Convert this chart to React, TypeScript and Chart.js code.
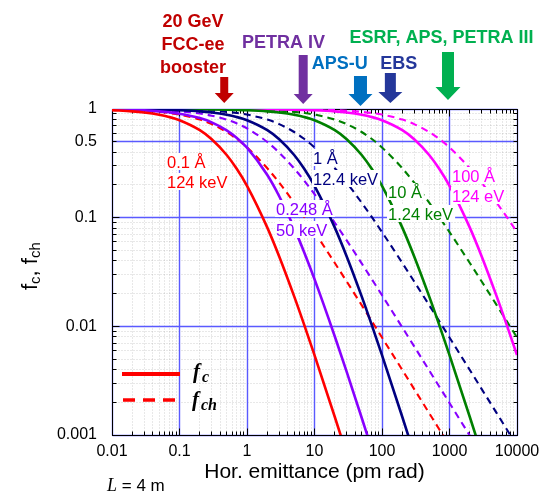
import React, { useEffect, useRef } from 'react';
import { Chart, registerables } from 'chart.js';

Chart.register(...registerables);

// ---------- data ----------
const emittance = [
  0.01, 0.02, 0.03, 0.05, 0.07,
  0.1, 0.2, 0.3, 0.5, 0.7,
  1, 2, 3, 5, 7,
  10, 20, 30, 50, 70,
  100, 200, 300, 500, 700,
  1000, 2000, 3000, 5000, 7000,
  10000,
];

const wavelengthLabels = ['0.1 Å', '0.248 Å', '1 Å', '10 Å', '100 Å'];
const energyLabels = ['124 keV', '50 keV', '12.4 keV', '1.24 keV', '124 eV'];

// f_c (solid) and f_ch (dashed), values at the emittance grid above
const fcRed = [0.9753, 0.9516, 0.9287, 0.8853, 0.8448, 0.7892, 0.6387, 0.5274, 0.3772, 0.2831, 0.1964, 0.08102, 0.04395, 0.01885, 0.01042, 0.005434, 0.001464, 0.000668];
const fchRed = [0.9876, 0.9755, 0.9637, 0.9409, 0.9192, 0.8884, 0.7992, 0.7262, 0.6141, 0.532, 0.4431, 0.2846, 0.2097, 0.1373, 0.1021, 0.07371, 0.03827, 0.02584, 0.01567, 0.01124, 0.007895, 0.003963, 0.002646, 0.001589, 0.001136, 0.000795];

const fcPurple = [0.99, 0.98, 0.9703, 0.9512, 0.9327, 0.9059, 0.8244, 0.7535, 0.6366, 0.5449, 0.4405, 0.2467, 0.1575, 0.08009, 0.04837, 0.02717, 0.008066, 0.00381, 0.001442, 0.000752];
const fchPurple = [0.995, 0.99, 0.985, 0.9753, 0.9657, 0.9518, 0.908, 0.8681, 0.7979, 0.7382, 0.6637, 0.4967, 0.3968, 0.283, 0.2199, 0.1648, 0.08981, 0.06172, 0.03797, 0.02742, 0.01935, 0.009771, 0.006535, 0.003932, 0.002811, 0.00197, 0.000986, 0.000657];

const fcNavy = [0.9975, 0.995, 0.9925, 0.9876, 0.9826, 0.9753, 0.9516, 0.9287, 0.8853, 0.8448, 0.7892, 0.6387, 0.5274, 0.3772, 0.2831, 0.1964, 0.08102, 0.04395, 0.01885, 0.01042, 0.005434, 0.001464, 0.000668];
const fchNavy = [0.9987, 0.9975, 0.9962, 0.9938, 0.9913, 0.9876, 0.9755, 0.9637, 0.9409, 0.9192, 0.8884, 0.7992, 0.7262, 0.6141, 0.532, 0.4431, 0.2846, 0.2097, 0.1373, 0.1021, 0.07371, 0.03827, 0.02584, 0.01567, 0.01124, 0.007895, 0.003963, 0.002646, 0.001589, 0.001136, 0.000795];

const fcGreen = [0.9997, 0.9995, 0.9992, 0.9987, 0.9982, 0.9975, 0.995, 0.9925, 0.9876, 0.9826, 0.9753, 0.9516, 0.9287, 0.8853, 0.8448, 0.7892, 0.6387, 0.5274, 0.3772, 0.2831, 0.1964, 0.08102, 0.04395, 0.01885, 0.01042, 0.005434, 0.001464, 0.000668];
const fchGreen = [0.9999, 0.9997, 0.9996, 0.9994, 0.9991, 0.9987, 0.9975, 0.9962, 0.9938, 0.9913, 0.9876, 0.9755, 0.9637, 0.9409, 0.9192, 0.8884, 0.7992, 0.7262, 0.6141, 0.532, 0.4431, 0.2846, 0.2097, 0.1373, 0.1021, 0.07371, 0.03827, 0.02584, 0.01567, 0.01124, 0.007895];

const fcMagenta = [1, 1, 1, 0.9999, 0.9998, 0.9997, 0.9995, 0.9992, 0.9987, 0.9982, 0.9975, 0.995, 0.9925, 0.9876, 0.9826, 0.9753, 0.9516, 0.9287, 0.8853, 0.8448, 0.7892, 0.6387, 0.5274, 0.3772, 0.2831, 0.1964, 0.08102, 0.04395, 0.01885, 0.01042, 0.005434];
const fchMagenta = [1, 1, 1, 0.9999, 0.9999, 0.9999, 0.9997, 0.9996, 0.9994, 0.9991, 0.9987, 0.9975, 0.9962, 0.9938, 0.9913, 0.9876, 0.9755, 0.9637, 0.9409, 0.9192, 0.8884, 0.7992, 0.7262, 0.6141, 0.532, 0.4431, 0.2846, 0.2097, 0.1373, 0.1021, 0.07371];

const xTickValues = [0.01, 0.1, 1, 10, 100, 1000, 10000];
const xTickLabels = ['0.01', '0.1', '1', '10', '100', '1000', '10000'];
const yTickValues = [0.001, 0.01, 0.1, 0.5, 1];
const yTickLabels = ['0.001', '0.01', '0.1', '0.5', '1'];
const yDecades = [0.001, 0.01, 0.1, 1];

const markerLines = [['20 GeV', 'FCC-ee', 'booster'], ['PETRA IV'], ['APS-U'], ['EBS'], ['ESRF, APS, PETRA III']];
const markerEmittance = [0.46, 6.8, 48, 133, 950];

// ---------- styles ----------
const RED = '#ff0000';
const PURPLE = '#8800ff';
const NAVY = '#000080';
const GREEN = '#008000';
const MAGENTA = '#ff00ff';
const curveColors = [RED, PURPLE, NAVY, GREEN, MAGENTA];
const fcSeries = [fcRed, fcPurple, fcNavy, fcGreen, fcMagenta];
const fchSeries = [fchRed, fchPurple, fchNavy, fchGreen, fchMagenta];

const markerColors = ['#c00000', '#7030a0', '#0070c0', '#24379a', '#00b050'];
const SANS = '"Liberation Sans", Arial, sans-serif';
const SERIF = '"Liberation Serif", "Times New Roman", serif';
const MAJOR_GRID = '#5a5aff';
const MINOR_GRID = 'rgba(0,0,0,0.18)';

const near = (v: number, list: number[]) =>
  list.findIndex((t) => Math.abs(Math.log10(v) - Math.log10(t)) < 1e-6);

const toPoints = (arr: number[]) => arr.map((v, i) => ({ x: emittance[i], y: v }));

const minorsBetween = (decades: number[]) => {
  const out: number[] = [];
  for (let i = 0; i < decades.length - 1; i++) {
    for (let m = 2; m <= 9; m++) out.push(decades[i] * m);
  }
  return out;
};

const decor = {
  id: 'decor',
  beforeDatasetsDraw(chart: any) {
    const { ctx, chartArea: a, scales } = chart;
    const xs = scales.x;
    const ys = scales.y;
    const al = (p: number) => Math.round(p - 0.5) + 0.5;
    const L = al(a.left), R = al(a.right), T = al(a.top), B = al(a.bottom);
    const xMinor = minorsBetween(xTickValues);
    const yMinor = minorsBetween(yDecades).filter((v) => near(v, yTickValues) < 0);
    ctx.save();
    // minor grid
    ctx.strokeStyle = MINOR_GRID;
    ctx.lineWidth = 1;
    ctx.setLineDash([1, 2]);
    ctx.beginPath();
    xMinor.forEach((v) => {
      const px = al(xs.getPixelForValue(v));
      ctx.moveTo(px, T);
      ctx.lineTo(px, B);
    });
    yMinor.forEach((v) => {
      const py = al(ys.getPixelForValue(v));
      ctx.moveTo(L, py);
      ctx.lineTo(R, py);
    });
    ctx.stroke();
    // major grid
    ctx.setLineDash([]);
    ctx.strokeStyle = MAJOR_GRID;
    ctx.lineWidth = 1.4;
    ctx.beginPath();
    xTickValues.forEach((v) => {
      const px = al(xs.getPixelForValue(v));
      ctx.moveTo(px, T);
      ctx.lineTo(px, B);
    });
    yTickValues.forEach((v) => {
      const py = al(ys.getPixelForValue(v));
      ctx.moveTo(L, py);
      ctx.lineTo(R, py);
    });
    ctx.stroke();
    // inward tick marks
    ctx.strokeStyle = '#000';
    ctx.lineWidth = 1;
    ctx.beginPath();
    const xt = [...xTickValues.map((v) => [v, 7]), ...xMinor.map((v) => [v, 4])];
    xt.forEach(([v, len]) => {
      const px = al(xs.getPixelForValue(v));
      ctx.moveTo(px, B);
      ctx.lineTo(px, B - len);
      ctx.moveTo(px, T);
      ctx.lineTo(px, T + len);
    });
    const yt = [...yDecades.map((v) => [v, 7]), ...minorsBetween(yDecades).map((v) => [v, 4])];
    yt.forEach(([v, len]) => {
      const py = al(ys.getPixelForValue(v));
      ctx.moveTo(L, py);
      ctx.lineTo(L + len, py);
      ctx.moveTo(R, py);
      ctx.lineTo(R - len, py);
    });
    ctx.stroke();
    ctx.strokeRect(L, T, R - L, B - T);
    ctx.restore();
  },
  afterDatasetsDraw(chart: any) {
    const { ctx } = chart;
    ctx.save();
    // curve labels with white boxes
    const pos = [
      { x: 167, b: [168, 188] },
      { x: 276, b: [215, 236] },
      { x: 313, b: [164, 185] },
      { x: 388, b: [198, 220] },
      { x: 452, b: [182, 202] },
    ];
    ctx.font = `16.5px ${SANS}`;
    ctx.textBaseline = 'alphabetic';
    ctx.textAlign = 'left';
    pos.forEach((p, i) => {
      const lines = [wavelengthLabels[i], energyLabels[i]];
      lines.forEach((s, j) => {
        const w = ctx.measureText(s).width;
        ctx.fillStyle = '#fff';
        ctx.fillRect(p.x - 1, p.b[j] - 15, w + 3, 17);
      });
      lines.forEach((s, j) => {
        ctx.fillStyle = curveColors[i];
        ctx.fillText(s, p.x, p.b[j]);
      });
    });
    // legend
    ctx.strokeStyle = RED;
    ctx.lineWidth = 4;
    ctx.beginPath();
    ctx.moveTo(122, 374);
    ctx.lineTo(180, 374);
    ctx.stroke();
    ctx.lineWidth = 3.5;
    ctx.setLineDash([12, 8]);
    ctx.beginPath();
    ctx.moveTo(123, 400);
    ctx.lineTo(180, 400);
    ctx.stroke();
    ctx.setLineDash([]);
    ctx.fillStyle = '#000';
    ctx.font = `bold italic 21px ${SERIF}`;
    ctx.fillText('f', 193, 378);
    let w = ctx.measureText('f').width;
    ctx.font = `bold italic 16px ${SERIF}`;
    ctx.fillText('c', 193 + w + 2, 382);
    ctx.font = `bold italic 21px ${SERIF}`;
    ctx.fillText('f', 192, 406);
    w = ctx.measureText('f').width;
    ctx.font = `bold italic 16px ${SERIF}`;
    ctx.fillText('ch', 192 + w + 2, 410);
    ctx.restore();
  },
  afterDraw(chart: any) {
    const { ctx, scales } = chart;
    const xs = scales.x;
    ctx.save();
    // axis titles
    ctx.fillStyle = '#000';
    ctx.textAlign = 'center';
    ctx.textBaseline = 'alphabetic';
    ctx.font = `21px ${SANS}`;
    ctx.fillText('Hor. emittance (pm rad)', 314.5, 478);
    // y title rotated
    ctx.save();
    ctx.translate(37, 290);
    ctx.rotate(-Math.PI / 2);
    ctx.textAlign = 'left';
    let x0 = 0;
    const part = (s: string, size: number, dy: number) => {
      ctx.font = `${size}px ${SANS}`;
      ctx.fillText(s, x0, dy);
      x0 += ctx.measureText(s).width;
    };
    part('f', 22, 0);
    part('c', 15, 3);
    part(', f', 22, 0);
    part('ch', 15, 3);
    ctx.restore();
    // L = 4 m
    ctx.textAlign = 'left';
    ctx.font = `italic 18px ${SERIF}`;
    ctx.fillText('L', 107, 491);
    const lw = ctx.measureText('L').width;
    ctx.font = `17px ${SANS}`;
    ctx.fillText(' = 4 m', 107 + lw, 491);

    // top markers
    const arrows = [
      { top: 77, hs: 93, tip: 103, sw: 8, hw: 19 },
      { top: 55, hs: 94, tip: 104, sw: 9, hw: 19 },
      { top: 76, hs: 94, tip: 106, sw: 13, hw: 24 },
      { top: 73, hs: 92, tip: 103, sw: 11, hw: 24 },
      { top: 52, hs: 87, tip: 100, sw: 12, hw: 25 },
    ];
    arrows.forEach((a, i) => {
      const cx = xs.getPixelForValue(markerEmittance[i]);
      ctx.fillStyle = markerColors[i];
      ctx.beginPath();
      ctx.moveTo(cx - a.sw / 2, a.top);
      ctx.lineTo(cx + a.sw / 2, a.top);
      ctx.lineTo(cx + a.sw / 2, a.hs);
      ctx.lineTo(cx + a.hw / 2, a.hs);
      ctx.lineTo(cx, a.tip);
      ctx.lineTo(cx - a.hw / 2, a.hs);
      ctx.lineTo(cx - a.sw / 2, a.hs);
      ctx.closePath();
      ctx.fill();
    });
    const textPos = [
      { x: 193, b: 27 },
      { x: 283.5, b: 48 },
      { x: 339.7, b: 69 },
      { x: 398.8, b: 69 },
      { x: 441.5, b: 43 },
    ];
    ctx.font = `bold 18px ${SANS}`;
    ctx.textAlign = 'center';
    markerLines.forEach((lines, i) => {
      ctx.fillStyle = markerColors[i];
      lines.forEach((s, j) => ctx.fillText(s, textPos[i].x, textPos[i].b + j * 23));
    });
    ctx.restore();
  },
};

export default function App() {
  const ref = useRef<HTMLCanvasElement>(null);
  useEffect(() => {
    const canvas = ref.current!;
    Chart.defaults.font.family = SANS;
    const datasets: any[] = [];
    fcSeries.forEach((arr, i) =>
      datasets.push({
        data: toPoints(arr),
        borderColor: curveColors[i],
        borderWidth: 2.6,
        showLine: true,
        pointRadius: 0,
        cubicInterpolationMode: 'monotone',
      })
    );
    fchSeries.forEach((arr, i) =>
      datasets.push({
        data: toPoints(arr),
        borderColor: curveColors[i],
        borderWidth: 2.1,
        borderDash: [7, 5],
        showLine: true,
        pointRadius: 0,
        cubicInterpolationMode: 'monotone',
      })
    );
    const chart = new Chart(canvas, {
      type: 'scatter',
      data: { datasets },
      options: {
        responsive: false,
        animation: false,
        devicePixelRatio: 1,
        layout: { padding: { top: 109, right: 36, left: 0, bottom: 0 } },
        plugins: { legend: { display: false }, tooltip: { enabled: false } },
        scales: {
          x: {
            type: 'logarithmic',
            min: 0.01,
            max: 10000,
            afterFit: (s: any) => {
              s.height = 59;
            },
            grid: { display: false, drawTicks: false },
            border: { display: false },
            ticks: {
              autoSkip: false,
              maxRotation: 0,
              padding: 7,
              color: '#000',
              font: { size: 16 },
              callback: (v: any) => {
                const k = near(Number(v), xTickValues);
                return k >= 0 ? xTickLabels[k] : '';
              },
            },
          },
          y: {
            type: 'logarithmic',
            min: 0.001,
            max: 1,
            afterFit: (s: any) => {
              s.width = 112;
            },
            grid: { display: false, drawTicks: false },
            border: { display: false },
            ticks: {
              autoSkip: false,
              padding: 15,
              color: '#000',
              font: { size: 16 },
              callback: (v: any) => {
                const k = near(Number(v), yTickValues);
                return k >= 0 ? yTickLabels[k] : '';
              },
            },
          },
        },
      } as any,
      plugins: [decor],
    });
    return () => chart.destroy();
  }, []);
  return (
    <div style={{ position: 'fixed', left: 0, top: 0, width: 553, height: 494, background: '#fff' }}>
      <canvas ref={ref} width={553} height={494} style={{ display: 'block' }} />
    </div>
  );
}
